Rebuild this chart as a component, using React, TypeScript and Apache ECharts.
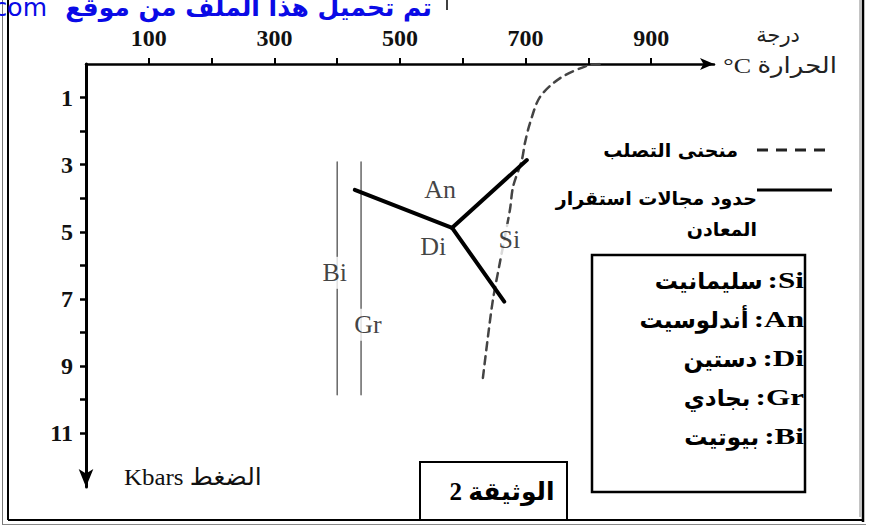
import React, { useEffect, useRef } from "react";
import * as echarts from "echarts";

// Temperature axis (°C) and pressure axis (kbar)
const tempTicks = [100, 200, 300, 400, 500, 600, 700, 800, 900];
const tempLabels = [100, 300, 500, 700, 900];
const pressureTicks = [1, 2, 3, 4, 5, 6, 7, 8, 9, 10, 11];
const pressureLabels = [1, 3, 5, 7, 9, 11];

// Solidus curve (منحنى التصلب): [T °C, P kbar]
const solidusCurve = [
  [818, 0.0], [798, 0.05], [755, 0.42], [723, 0.98], [707, 1.76], [699, 2.35],
  [694, 2.86], [680, 3.66], [675, 4.35], [659, 5.92], [648, 7.02], [640, 8.13], [632, 9.35],
];

// Mineral stability field boundaries
const triplePoint = [583, 4.88];
const anDiBoundary = [[428, 3.75], triplePoint];
const anSiBoundary = [triplePoint, [702, 2.86]];
const diSiBoundary = [triplePoint, [666, 7.08]];

// Biotite and garnet isograds
const biIsograd = [[400, 2.92], [400, 9.85]];
const grIsograd = [[438, 2.92], [438, 9.85]];

// Field labels
const fieldLabels = [
  { name: "An", value: [564, 3.75] },
  { name: "Di", value: [553, 5.45] },
  { name: "Si", value: [674, 5.24] },
  { name: "Bi", value: [396, 6.22] },
  { name: "Gr", value: [449, 7.77] },
];

// Legend entries for the minerals
const mineralCodes = ["Si", "An", "Di", "Gr", "Bi"];
const mineralNames = ["سليمانيت", "أندلوسيت", "دستين", "بجادي", "بيوتيت"];

const SERIF = "Liberation Serif, DejaVu Sans, serif";
const ARABIC = "DejaVu Sans, Liberation Sans, sans-serif";

const txt = (
  text: string,
  x: number,
  y: number,
  align: string,
  size: number,
  family: string,
  weight: string,
  fill: string,
  scaleX = 1
) => ({
  type: "text",
  x,
  y,
  scaleX,
  silent: true,
  style: {
    text,
    align,
    verticalAlign: "middle",
    fontSize: size,
    fontFamily: family,
    fontWeight: weight,
    fill,
  },
});

export default function App() {
  const ref = useRef<HTMLDivElement>(null);

  useEffect(() => {
    document.body.style.margin = "0";
    document.body.style.overflow = "hidden";
    if (!ref.current) return;
    const chart = echarts.init(ref.current, null, { renderer: "svg" });

    const seg = (data: number[][], width: number, color: string, type: any = "solid", smooth: any = false) => ({
      type: "line",
      data,
      symbol: "none",
      smooth,
      lineStyle: { width, color, type, cap: "round" },
      z: 3,
      silent: true,
    });

    // mineral legend: Latin code (wide serif) on the right, Arabic name to its left
    const ctx = document.createElement("canvas").getContext("2d");
    const codeScale = 1.3;
    const legendRight = 804;
    const legendGraphics: any[] = [];
    mineralCodes.forEach((code, i) => {
      const y = 280 + i * 39;
      const label = ":" + code;
      let w = 36;
      if (ctx) {
        ctx.font = "bold 24px 'Liberation Serif'";
        w = ctx.measureText(label).width * codeScale;
      }
      legendGraphics.push(txt(label, legendRight, y, "right", 24, SERIF, "bold", "#000", codeScale));
      legendGraphics.push(txt(mineralNames[i], legendRight - w - 5, y + 1, "right", 23, ARABIC, "bold", "#000"));
    });

    chart.setOption({
      animation: false,
      backgroundColor: "#fff",
      grid: { left: 86, top: 64, width: 628, height: 423, containLabel: false },
      xAxis: {
        type: "value",
        position: "top",
        min: 0,
        max: 1000,
        splitLine: { show: false },
        axisLine: {
          show: true,
          lineStyle: { color: "#000", width: 2.5 },
          symbol: ["none", "arrow"],
          symbolSize: [9, 14],
        },
        axisTick: {
          show: true,
          customValues: tempTicks,
          length: 6,
          lineStyle: { color: "#000", width: 2 },
        },
        axisLabel: {
          customValues: tempLabels,
          margin: 14,
          fontFamily: SERIF,
          fontWeight: "bold",
          fontSize: 24,
          color: "#111",
        },
      },
      yAxis: {
        type: "value",
        inverse: true,
        min: 0,
        max: 12.6,
        splitLine: { show: false },
        axisLine: {
          show: true,
          lineStyle: { color: "#000", width: 3 },
          symbol: ["arrow", "none"],
          symbolSize: [11, 18],
        },
        axisTick: {
          show: true,
          customValues: pressureTicks,
          length: 6,
          lineStyle: { color: "#000", width: 2.5 },
        },
        axisLabel: {
          customValues: pressureLabels,
          margin: 13,
          fontFamily: SERIF,
          fontWeight: "bold",
          fontSize: 24,
          color: "#111",
        },
      },
      series: [
        seg(biIsograd, 1.5, "#666"),
        seg(grIsograd, 1.5, "#666"),
        seg(solidusCurve, 2.5, "#444", [8, 6], 0.3),
        seg(anDiBoundary, 4, "#000"),
        seg(anSiBoundary, 4, "#000"),
        seg(diSiBoundary, 4, "#000"),
        {
          type: "scatter",
          data: fieldLabels,
          symbolSize: 0,
          z: 5,
          silent: true,
          label: {
            show: true,
            position: "inside",
            formatter: "{b}",
            fontFamily: SERIF,
            fontSize: 26,
            color: "#111",
            backgroundColor: "#fff",
            padding: [3, 1],
          },
        },
      ],
      graphic: [
        // outer frame
        { type: "line", shape: { x1: 2.5, y1: 0, x2: 2.5, y2: 525 }, style: { stroke: "#777", lineWidth: 1 } },
        { type: "line", shape: { x1: 8, y1: 0, x2: 8, y2: 520 }, style: { stroke: "#000", lineWidth: 2 } },
        { type: "line", shape: { x1: 860, y1: 0, x2: 860, y2: 517 }, style: { stroke: "#888", lineWidth: 1 } },
        { type: "line", shape: { x1: 863, y1: 0, x2: 863, y2: 522 }, style: { stroke: "#000", lineWidth: 2.5 } },
        { type: "line", shape: { x1: 8, y1: 520, x2: 863, y2: 520 }, style: { stroke: "#000", lineWidth: 2 } },
        { type: "line", shape: { x1: 2.5, y1: 524.5, x2: 866, y2: 524.5 }, style: { stroke: "#888", lineWidth: 1 } },
        // top blue banner (cut by the top edge as in the scan)
        txt("تم تحميل هذا الملف من موقع", 432, 7, "right", 25, ARABIC, "bold", "#0a0ae6"),
        txt("Talamidi.com", 47, 7, "right", 25, ARABIC, "normal", "#0a0ae6"),
        { type: "line", shape: { x1: 447, y1: 0, x2: 447, y2: 10 }, style: { stroke: "#000", lineWidth: 1.5 } },
        // temperature axis title
        txt("درجة", 778, 35, "center", 21, SERIF, "normal", "#222"),
        txt("°C الحرارة", 837, 66, "right", 22, SERIF, "normal", "#222", 1.18),
        // pressure axis title
        txt("Kbars الضغط", 124, 477, "left", 24, SERIF, "normal", "#111", 1.04),
        // line-type legend
        {
          type: "line",
          shape: { x1: 757, y1: 150, x2: 832, y2: 150 },
          style: { stroke: "#222", lineWidth: 3, lineDash: [11, 8] },
        },
        txt("منحنى التصلب", 738, 150, "right", 19, ARABIC, "bold", "#000"),
        {
          type: "line",
          shape: { x1: 757, y1: 190, x2: 832, y2: 190 },
          style: { stroke: "#000", lineWidth: 3 },
        },
        txt("حدود مجالات استقرار", 757, 198, "right", 19, ARABIC, "bold", "#000"),
        txt("المعادن", 757, 229, "right", 19, ARABIC, "bold", "#000"),
        // mineral legend box
        {
          type: "rect",
          shape: { x: 592, y: 255, width: 213, height: 237 },
          style: { fill: "none", stroke: "#000", lineWidth: 2.5 },
        },
        ...legendGraphics,
        // document box
        {
          type: "rect",
          shape: { x: 420, y: 462, width: 147, height: 58 },
          style: { fill: "#fff", stroke: "#000", lineWidth: 2 },
        },
        txt("2 الوثيقة", 502, 491, "center", 25, SERIF, "bold", "#000"),
      ],
    });

    return () => chart.dispose();
  }, []);

  return <div ref={ref} style={{ width: 875, height: 529 }} />;
}
